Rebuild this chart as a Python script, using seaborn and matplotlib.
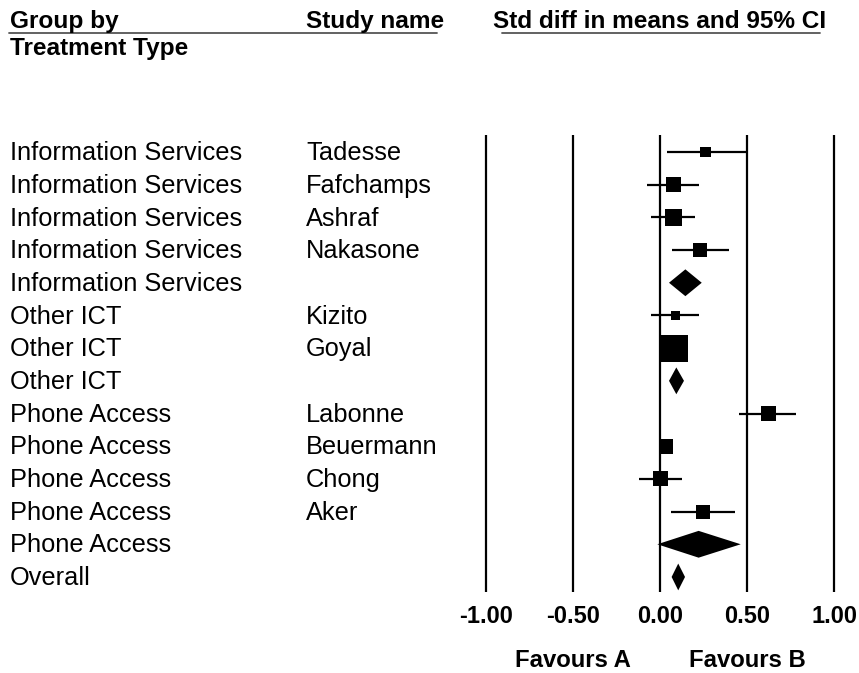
import matplotlib
matplotlib.use("Agg")
import matplotlib.pyplot as plt
import matplotlib.transforms as mtransforms
from matplotlib.lines import Line2D
import seaborn as sns
import pandas as pd

# ---------------- data ----------------
groups = ["Information Services", "Information Services", "Information Services",
          "Information Services", "Information Services",
          "Other ICT", "Other ICT", "Other ICT",
          "Phone Access", "Phone Access", "Phone Access", "Phone Access", "Phone Access",
          "Overall"]
studies = ["Tadesse", "Fafchamps", "Ashraf", "Nakasone", "",
           "Kizito", "Goyal", "",
           "Labonne", "Beuermann", "Chong", "Aker", "",
           ""]
is_summary = [False, False, False, False, True,
              False, False, True,
              False, False, False, False, True,
              True]
estimate = [0.26, 0.075, 0.075, 0.228, 0.144,
            0.088, 0.084, 0.092,
            0.62, 0.033, 0.002, 0.244, 0.22,
            0.103]
lower = [0.037, -0.075, -0.053, 0.069, 0.05,
         -0.053, 0.03, 0.05,
         0.454, 0.005, -0.12, 0.06, -0.017,
         0.065]
upper = [0.49, 0.222, 0.20, 0.393, 0.238,
         0.222, 0.14, 0.136,
         0.78, 0.06, 0.126, 0.43, 0.462,
         0.142]
weight = [1.1, 2.3, 2.9, 2.2, None,
          0.8, 7.3, None,
          2.2, 2.2, 2.3, 2.0, None,
          None]
tick_values = [-1.0, -0.5, 0.0, 0.5, 1.0]
tick_labels = ["-1.00", "-0.50", "0.00", "0.50", "1.00"]
favours = ["Favours A", "Favours B"]
favours_at = [-0.5, 0.5]
headers = ["Group by", "Study name", "Std diff in means and 95% CI"]
subheader = "Treatment Type"

df = pd.DataFrame({"group": groups, "study": studies, "summary": is_summary,
                   "est": estimate, "lo": lower, "hi": upper, "weight": weight})
df["row"] = range(len(df))

# ---------------- style ----------------
sns.set_theme(style="white")
plt.rcParams["font.family"] = ["Liberation Sans", "DejaVu Sans"]
plt.rcParams["text.color"] = "black"

W, H = 859, 673
fig = plt.figure(figsize=(W / 100, H / 100), dpi=100)
fig.patch.set_facecolor("white")

ax = fig.add_axes([460 / W, 0, 399 / W, 1])

# vertical reference lines
ax.vlines(tick_values, -0.52, 13.45, color="black", lw=1.6, zorder=1)

# confidence intervals for individual studies
st = df[~df["summary"]]
ax.hlines(st["row"], st["lo"], st["hi"], color="black", lw=1.6, zorder=2)

# squares sized by weight
sns.scatterplot(data=st, x="est", y="row", size="weight", sizes=(0, 518.4),
                size_norm=(0, 10), marker="s", color="black", linewidth=0,
                legend=False, ax=ax, zorder=3)

# summary diamonds
h = 0.41
for _, r in df[df["summary"]].iterrows():
    ax.fill([r["lo"], r["est"], r["hi"], r["est"]],
            [r["row"], r["row"] - h, r["row"], r["row"] + h],
            color="black", lw=0, zorder=3)

ax.set_xlim(-1.1505, 1.1413)
ax.set_ylim(15.938, -4.650)
ax.axis("off")

# tick labels
for v, lab in zip(tick_values, tick_labels):
    ax.text(v, 14.41, lab, ha="center", va="baseline", fontsize=17,
            fontweight="bold", color="black")
for v, lab in zip(favours_at, favours):
    ax.text(v, 15.75, lab, ha="center", va="baseline", fontsize=17.2,
            fontweight="bold", color="black")

# row labels
tr = mtransforms.blended_transform_factory(fig.transFigure, ax.transData)
for _, r in df.iterrows():
    fig.text(10 / W, r["row"] + 0.25, r["group"], transform=tr, ha="left",
             va="baseline", fontsize=18.3, color="black")
    if r["study"]:
        fig.text(306 / W, r["row"] + 0.25, r["study"], transform=tr, ha="left",
                 va="baseline", fontsize=18.3, color="black")

# headers
fig.text(10 / W, 1 - 28 / H, headers[0], ha="left", va="baseline",
         fontsize=17.6, fontweight="bold", color="black")
fig.text(306 / W, 1 - 28 / H, headers[1], ha="left", va="baseline",
         fontsize=17.6, fontweight="bold", color="black")
fig.text(493 / W, 1 - 28 / H, headers[2], ha="left", va="baseline",
         fontsize=17.6, fontweight="bold", color="black")
fig.text(10 / W, 1 - 55 / H, subheader, ha="left", va="baseline",
         fontsize=17.6, fontweight="bold", color="black")

# header underlines
fig.add_artist(Line2D([9 / W, 437 / W], [1 - 32.5 / H, 1 - 32.5 / H],
                      color="#555555", lw=1.3, transform=fig.transFigure))
fig.add_artist(Line2D([502 / W, 820 / W], [1 - 32.5 / H, 1 - 32.5 / H],
                      color="#555555", lw=1.3, transform=fig.transFigure))

fig.savefig("out.png", dpi=100, facecolor="white")
